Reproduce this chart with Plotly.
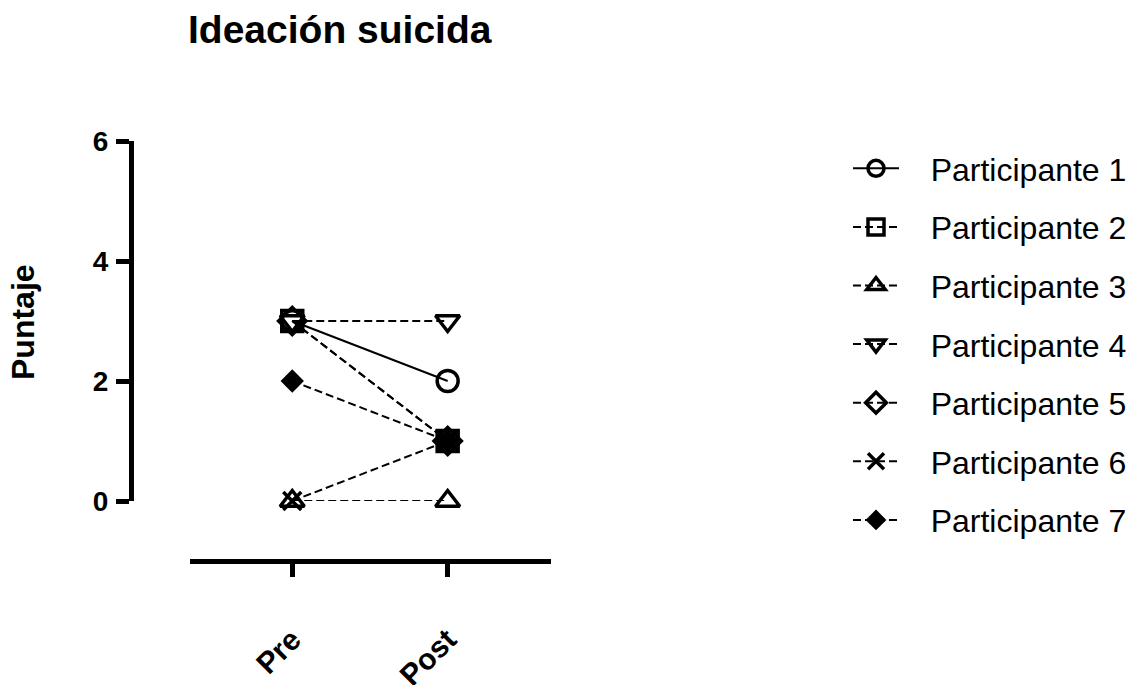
import plotly.graph_objects as go

categories = ["Pre", "Post"]
participants = ["Participante 1", "Participante 2", "Participante 3", "Participante 4",
                "Participante 5", "Participante 6", "Participante 7"]
pre_values = [3, 3, 0, 3, 3, 0, 2]
post_values = [2, 1, 0, 3, 1, 1, 1]
y_ticks = [0, 2, 4, 6]

symbols = ["circle-open", "square-open", "triangle-up-open", "triangle-down-open",
           "diamond-open", "x-thin-open", "diamond"]
dashes = ["solid", "8px,4px", "8px,4px", "8px,4px", "8px,4px", "8px,4px", "8px,4px"]
sizes = [21, 21, 21, 21, 21, 18, 18]

W, H = 1137, 685
FONT = "Arial, Liberation Sans, sans-serif"
PAD = "\u00a0\u00a0\u00a0"

fig = go.Figure()
for i, name in enumerate(participants):
    fig.add_trace(go.Scatter(
        x=categories, y=[pre_values[i], post_values[i]],
        name=PAD + name, legendgroup=name,
        mode="lines+markers", cliponaxis=False,
        line=dict(color="black", width=2, dash=dashes[i]),
        marker=dict(symbol=symbols[i], size=sizes[i], color="black",
                    line=dict(color="black", width=3.5 if i < 6 else 0)),
    ))

fig.update_layout(
    width=W, height=H,
    margin=dict(l=0, r=0, t=0, b=0, autoexpand=False),
    paper_bgcolor="white", plot_bgcolor="white",
    font=dict(family=FONT, color="black"),
    showlegend=True,
    legend=dict(x=848 / W, y=(H - 141) / H, xanchor="left", yanchor="top",
                font=dict(size=32, family=FONT), tracegroupgap=14,
                itemwidth=46, bgcolor="rgba(0,0,0,0)"),
    xaxis=dict(type="category", categoryorder="array", categoryarray=categories,
               range=[-0.658, 1.665], domain=[190 / W, 551 / W],
               anchor="free", position=(H - 561) / H,
               showline=True, linewidth=5, linecolor="black",
               ticks="outside", ticklen=13, tickwidth=5, tickcolor="black",
               tickangle=-45, ticklabelstandoff=33,
               tickfont=dict(size=30, family=FONT, weight="bold"),
               showgrid=False, zeroline=False),
    yaxis=dict(range=[0, 6], domain=[(H - 501) / H, (H - 141) / H],
               anchor="free", position=131 / W,
               tickvals=y_ticks, ticktext=[str(v) for v in y_ticks],
               showline=True, linewidth=5, linecolor="black",
               ticks="outside", ticklen=13, tickwidth=5, tickcolor="black",
               ticklabelstandoff=2,
               tickfont=dict(size=28, family=FONT, weight="bold"),
               showgrid=False, zeroline=False),
    annotations=[
        dict(text="Ideación suicida", x=186 / W, y=(H - 6) / H, xref="paper", yref="paper",
             xanchor="left", yanchor="top", showarrow=False,
             font=dict(size=39, family=FONT, weight="bold")),
        dict(text="Puntaje", x=23 / W, y=(H - 322) / H, xref="paper", yref="paper",
             xanchor="center", yanchor="middle", textangle=-90, showarrow=False,
             font=dict(size=32, family=FONT, weight="bold")),
    ],
)

fig.write_html("out.html", config={"displayModeBar": False},
               post_script="document.body.style.margin='0px';document.body.style.overflow='hidden';")
